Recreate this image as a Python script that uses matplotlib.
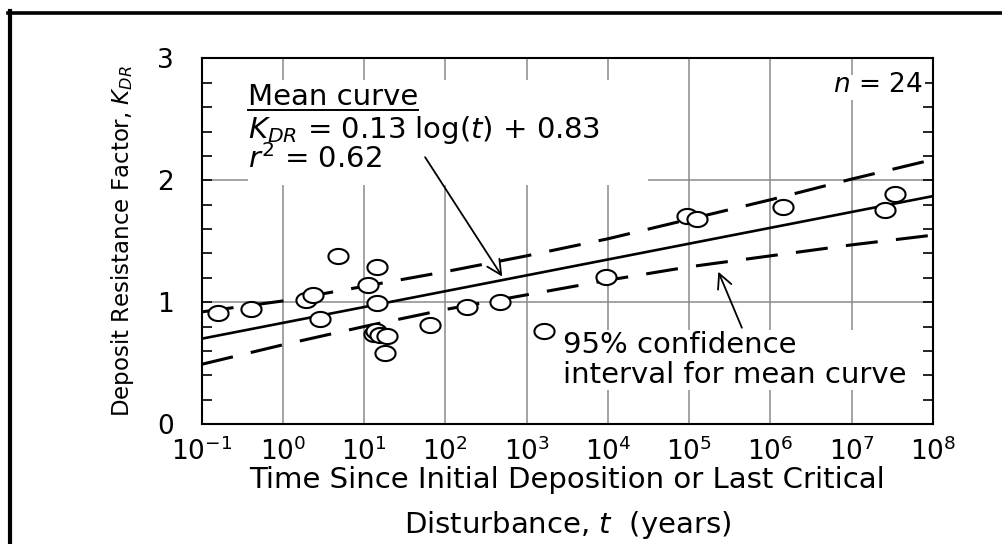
import numpy as np
import matplotlib
matplotlib.use('Agg')
import matplotlib.pyplot as plt
from matplotlib.path import Path
from matplotlib.patches import Rectangle
from matplotlib.lines import Line2D
from matplotlib.ticker import MultipleLocator, NullLocator

plt.rcParams['font.family'] = ['DejaVu Sans']
plt.rcParams['mathtext.fontset'] = 'dejavusans'
plt.rcParams['mathtext.default'] = 'regular'

# Site data: log10 of time (years) and deposit resistance factor K_DR
log_t = [-0.80, -0.39, 0.28, 0.37, 0.46, 0.68,
         1.05, 1.16, 1.16, 1.12, 1.15, 1.20, 1.28, 1.26,
         1.81, 2.27, 2.67, 3.21, 3.98,
         4.98, 5.10, 6.16, 7.41, 7.54]
k_dr = [0.91, 0.94, 1.02, 1.06, 0.86, 1.38,
        1.14, 1.29, 0.99, 0.74, 0.76, 0.73, 0.72, 0.58,
        0.81, 0.96, 1.00, 0.76, 1.21,
        1.71, 1.68, 1.78, 1.76, 1.89]

# Regression from the fit statistics
slope = 0.13
intercept = 0.83
r_squared = 0.62
n_sites = 24

# 95% confidence band, read at each decade
band_log_t = [-1, 0, 1, 2, 3, 4, 5, 6, 7, 8]
band_upper = [0.92, 1.01, 1.13, 1.25, 1.38, 1.52, 1.68, 1.84, 2.01, 2.17]
band_lower = [0.49, 0.65, 0.80, 0.94, 1.06, 1.18, 1.29, 1.38, 1.47, 1.55]

decades = list(range(-1, 9))

t = 10.0 ** np.array(log_t)
mean_log_t = np.array([-1.0, 8.0])
mean_k = intercept + slope * mean_log_t

fig = plt.figure(figsize=(10.02, 5.44), dpi=100)
ax = fig.add_axes([0.2013, 0.2206, 0.7296, 0.6719])

# open, slightly flattened circle marker
theta = np.linspace(0, 2 * np.pi, 80)
oval = Path(np.column_stack([np.cos(theta), 0.75 * np.sin(theta)]))

ax.plot(10.0 ** mean_log_t, mean_k, color='black', lw=1.9, zorder=3)
ax.plot(10.0 ** np.array(band_log_t), band_upper, color='black', lw=2.2,
        dashes=(10.5, 6), zorder=3)
ax.plot(10.0 ** np.array(band_log_t), band_lower, color='black', lw=2.2,
        dashes=(10.5, 6), zorder=3)
ax.plot(t, k_dr, linestyle='none', marker=oval, markersize=14.5,
        markerfacecolor='white', markeredgecolor='black',
        markeredgewidth=1.5, zorder=4)

ax.set_xscale('log')
ax.set_xlim(1e-1, 1e8)
ax.set_ylim(0, 3)
ax.set_xticks(10.0 ** np.array(decades))
ax.set_xticklabels([f'$10^{{{d}}}$' for d in decades])
ax.xaxis.set_minor_locator(NullLocator())
ax.set_yticks([0, 1, 2, 3])
ax.yaxis.set_minor_locator(MultipleLocator(0.2))

ax.tick_params(axis='x', which='both', length=0, pad=10, labelsize=19)
ax.tick_params(axis='y', which='both', direction='in', left=True, right=True,
               length=7, width=1.2, pad=20, labelsize=19)
ax.set_axisbelow(True)
ax.grid(True, which='major', color='#8a8a8a', lw=1.1)
for s in ax.spines.values():
    s.set_linewidth(1.5)

ax.set_xlabel('Time Since Initial Deposition or Last Critical\n'
              'Disturbance, $\\mathit{t}$  (years)',
              fontsize=21, linespacing=1.62, labelpad=0)
ax.set_ylabel('Deposit Resistance Factor, $\\mathit{K}_{\\mathit{DR}}$',
              fontsize=16.5)
ax.yaxis.set_label_coords(-0.09, 0.5)

# white panels behind the annotations hide the grid
for x0, y0, w, h in [(0.063, 0.654, 0.548, 0.287),
                     (0.857, 0.886, 0.133, 0.069),
                     (0.490, 0.093, 0.475, 0.164)]:
    ax.add_patch(Rectangle((x0, y0), w, h, transform=ax.transAxes,
                           facecolor='white', edgecolor='none', zorder=1))

title_txt = ax.text(0.0633, 0.873, 'Mean curve', transform=ax.transAxes,
                    fontsize=21, va='baseline', zorder=5)
ax.text(0.0633, 0.7825,
        f'$\\mathit{{K}}_{{\\mathit{{DR}}}}$ = {slope:.2f} log($\\mathit{{t}}$) + {intercept:.2f}',
        transform=ax.transAxes, fontsize=21, va='baseline', zorder=5)
ax.text(0.0633, 0.700, f'$\\mathit{{r}}^2$ = {r_squared:.2f}',
        transform=ax.transAxes, fontsize=21, va='baseline', zorder=5)
ax.text(0.9866, 0.908, f'$\\mathit{{n}}$ = {n_sites}', transform=ax.transAxes,
        fontsize=19, va='baseline', ha='right', zorder=5)
ax.text(0.494, 0.194, '95% confidence', transform=ax.transAxes,
        fontsize=21, va='baseline', zorder=5)
ax.text(0.494, 0.112, 'interval for mean curve', transform=ax.transAxes,
        fontsize=21, va='baseline', zorder=5)

# underline "Mean curve" across its rendered width
fig.canvas.draw()
bb = title_txt.get_window_extent().transformed(ax.transAxes.inverted())
ax.plot([bb.x0, bb.x1], [0.859, 0.859], transform=ax.transAxes,
        color='black', lw=1.4, zorder=5)

arrow = dict(arrowstyle='->', lw=1.3, color='black', mutation_scale=26,
             shrinkA=0, shrinkB=0)
ax.annotate('', xy=(10 ** 2.70, 1.21), xytext=(10 ** 1.75, 2.19),
            arrowprops=arrow, zorder=5)
ax.annotate('', xy=(10 ** 5.36, 1.25), xytext=(10 ** 5.65, 0.79),
            arrowprops=arrow, zorder=5)

# frame lines along the left and top edges
fig.add_artist(Line2D([0.00998, 0.00998], [0.0, 0.979], color='black', lw=3.0))
fig.add_artist(Line2D([0.008, 1.0], [0.977, 0.977], color='black', lw=2.6))

fig.savefig('out.png', dpi=100)
